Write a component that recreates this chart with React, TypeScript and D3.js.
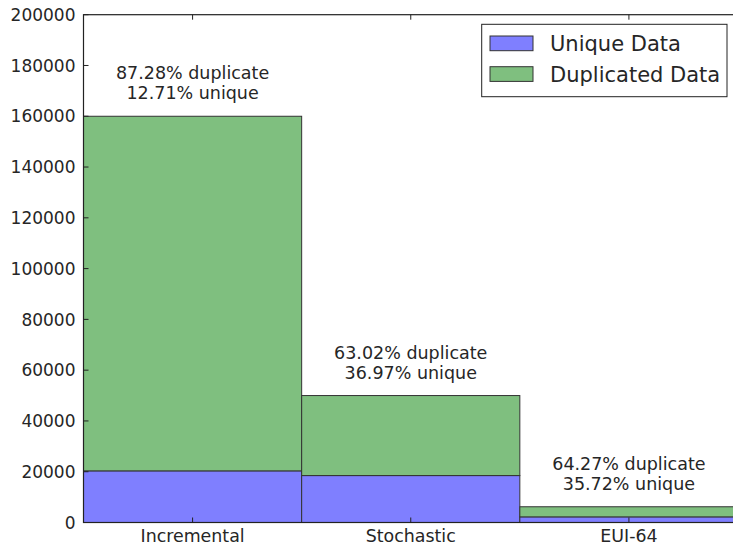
import React, { useRef, useEffect } from "react";
import * as d3 from "d3";

const categories = ["Incremental", "Stochastic", "EUI-64"];
const uniqueValues = [20336, 18485, 2215];
const duplicateValues = [139664, 31515, 3985];
const duplicateLabels = ["87.28% duplicate", "63.02% duplicate", "64.27% duplicate"];
const uniqueLabels = ["12.71% unique", "36.97% unique", "35.72% unique"];
const yTicks = [0, 20000, 40000, 60000, 80000, 100000, 120000, 140000, 160000, 180000, 200000];
const legendItems = ["Unique Data", "Duplicated Data"];

const App = () => {
  const ref = useRef<SVGSVGElement>(null);

  useEffect(() => {
    const width = 733;
    const height = 549;
    const left = 83.5;
    const right = 738;
    const top = 14.7;
    const bottom = 522.5;
    const font = "DejaVu Sans, sans-serif";
    const textColor = "#262626";
    const blue = "#7f7fff";
    const green = "#7fbf7f";

    const svg = d3.select(ref.current).attr("width", width).attr("height", height);
    svg.selectAll("*").remove();

    const x = d3.scaleBand().domain(categories).range([left, right]).padding(0);
    const y = d3.scaleLinear().domain([0, 200000]).range([bottom, top]);

    const data = categories.map((c, i) => ({
      name: c,
      unique: uniqueValues[i],
      dup: duplicateValues[i],
      dupLabel: duplicateLabels[i],
      uniqLabel: uniqueLabels[i],
    }));

    const g = svg.append("g");

    // stacked bars
    g.selectAll("rect.unique")
      .data(data)
      .enter()
      .append("rect")
      .attr("class", "unique")
      .attr("x", (d) => x(d.name)!)
      .attr("width", x.bandwidth())
      .attr("y", (d) => y(d.unique))
      .attr("height", (d) => y(0) - y(d.unique))
      .attr("fill", blue)
      .attr("stroke", "#333")
      .attr("stroke-width", 1);

    g.selectAll("rect.dup")
      .data(data)
      .enter()
      .append("rect")
      .attr("class", "dup")
      .attr("x", (d) => x(d.name)!)
      .attr("width", x.bandwidth())
      .attr("y", (d) => y(d.unique + d.dup))
      .attr("height", (d) => y(d.unique) - y(d.unique + d.dup))
      .attr("fill", green)
      .attr("stroke", "#333")
      .attr("stroke-width", 1);

    // annotations above bars
    const ann = g.selectAll("g.ann").data(data).enter().append("g");
    ann
      .append("text")
      .attr("x", (d) => x(d.name)! + x.bandwidth() / 2)
      .attr("y", (d) => y(d.unique + d.dup) - 37)
      .attr("text-anchor", "middle")
      .style("font-family", font)
      .style("font-size", "17.5px")
      .style("fill", textColor)
      .text((d) => d.dupLabel);
    ann
      .append("text")
      .attr("x", (d) => x(d.name)! + x.bandwidth() / 2)
      .attr("y", (d) => y(d.unique + d.dup) - 17)
      .attr("text-anchor", "middle")
      .style("font-family", font)
      .style("font-size", "17.5px")
      .style("fill", textColor)
      .text((d) => d.uniqLabel);

    // frame
    g.append("rect")
      .attr("x", left)
      .attr("y", top)
      .attr("width", right - left)
      .attr("height", bottom - top)
      .attr("fill", "none")
      .attr("stroke", "#222")
      .attr("stroke-width", 1.2);

    // y ticks (inward, both sides)
    yTicks.forEach((t) => {
      g.append("line")
        .attr("x1", left)
        .attr("x2", left + 5)
        .attr("y1", y(t))
        .attr("y2", y(t))
        .attr("stroke", "#222");
      g.append("line")
        .attr("x1", right - 5)
        .attr("x2", right)
        .attr("y1", y(t))
        .attr("y2", y(t))
        .attr("stroke", "#222");
      g.append("text")
        .attr("x", left - 8)
        .attr("y", y(t))
        .attr("dy", "0.36em")
        .attr("text-anchor", "end")
        .style("font-family", font)
        .style("font-size", "17px")
        .style("fill", textColor)
        .text(String(t));
    });

    // x ticks
    categories.forEach((c) => {
      const cx = x(c)! + x.bandwidth() / 2;
      g.append("line")
        .attr("x1", cx)
        .attr("x2", cx)
        .attr("y1", bottom)
        .attr("y2", bottom - 5)
        .attr("stroke", "#222");
      g.append("line")
        .attr("x1", cx)
        .attr("x2", cx)
        .attr("y1", top)
        .attr("y2", top + 5)
        .attr("stroke", "#222");
      g.append("text")
        .attr("x", cx)
        .attr("y", 541.5)
        .attr("text-anchor", "middle")
        .style("font-family", font)
        .style("font-size", "17.4px")
        .style("fill", textColor)
        .text(c);
    });

    // legend
    const legend = g.append("g");
    legend
      .append("rect")
      .attr("x", 481.7)
      .attr("y", 24.3)
      .attr("width", 245.3)
      .attr("height", 72.4)
      .attr("fill", "#fff")
      .attr("stroke", "#222")
      .attr("stroke-width", 1);
    const colors = [blue, green];
    legendItems.forEach((label, i) => {
      legend
        .append("rect")
        .attr("x", 490)
        .attr("y", 36 + i * 30.7)
        .attr("width", 43)
        .attr("height", 14.7)
        .attr("fill", colors[i])
        .attr("stroke", "#333");
      legend
        .append("text")
        .attr("x", 550)
        .attr("y", 50.8 + i * 30.7)
        .style("font-family", font)
        .style("font-size", "21px")
        .style("fill", textColor)
        .text(label);
    });
  }, []);

  return (
    <div style={{ position: "absolute", left: 0, top: 0 }}>
      <svg ref={ref}></svg>
    </div>
  );
};

export default App;
